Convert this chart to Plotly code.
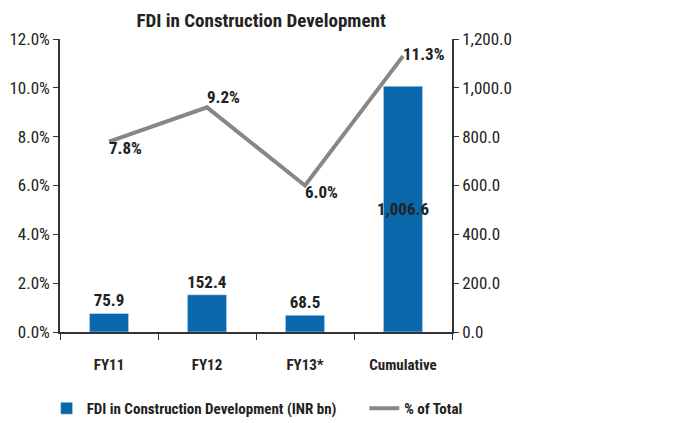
import plotly.graph_objects as go

categories = ["FY11", "FY12", "FY13*", "Cumulative"]
fdi_values = [75.9, 152.4, 68.5, 1006.6]
pct_total = [7.8, 9.2, 6.0, 11.3]
left_ticks = [0, 2, 4, 6, 8, 10, 12]
left_tick_text = ["0.0%", "2.0%", "4.0%", "6.0%", "8.0%", "10.0%", "12.0%"]
right_ticks = [0, 200, 400, 600, 800, 1000, 1200]
right_tick_text = ["0.0", "200.0", "400.0", "600.0", "800.0", "1,000.0", "1,200.0"]

FONT = "Liberation Sans Narrow, Roboto Condensed, Arial Narrow, Roboto, sans-serif"
DARK = "#222222"

fig = go.Figure()

fig.add_trace(go.Bar(
    x=categories, y=fdi_values,
    name="<b>FDI in Construction Development (INR bn)</b>",
    marker=dict(color="#0868AB"),
    texttemplate="<b>%{y:,.1f}</b>",
    textposition=["outside", "outside", "outside", "inside"],
    insidetextanchor="middle",
    textangle=0,
    constraintext="none",
    textfont=dict(size=17, color=DARK, family=FONT),
    insidetextfont=dict(size=17, color=DARK, family=FONT),
    outsidetextfont=dict(size=17, color=DARK, family=FONT),
    cliponaxis=False,
    yaxis="y",
    legend="legend",
))

fig.add_trace(go.Scatter(
    x=categories, y=pct_total,
    name="<b>% of Total</b>",
    mode="lines+text",
    line=dict(color="#878787", width=4),
    texttemplate="<b>%{y:.1f}%</b>",
    textposition=["bottom right", "top right", "bottom right", "middle right"],
    textfont=dict(size=17, color=DARK, family=FONT),
    cliponaxis=False,
    yaxis="y2",
    legend="legend2",
))

legend_common = dict(orientation="h", xref="container", yref="container",
                     xanchor="left", yanchor="middle", y=0.035,
                     font=dict(size=15, family=FONT, color=DARK),
                     bgcolor="rgba(0,0,0,0)")

fig.update_layout(
    width=666, height=415,
    margin=dict(l=52, r=222, t=31, b=91),
    paper_bgcolor="white", plot_bgcolor="white",
    font=dict(family=FONT, color=DARK, size=16),
    title=dict(text="<b>FDI in Construction Development</b>", x=0.38, xanchor="center",
               y=0.971, yanchor="middle", font=dict(size=19, family=FONT, color=DARK)),
    bargap=0.6,
    showlegend=True,
    legend=dict(x=0.058, **legend_common),
    legend2=dict(x=0.535, **legend_common),
    xaxis=dict(
        showline=True, linecolor="#333333", linewidth=1.5,
        ticks="outside", tickson="boundaries", ticklen=6, tickcolor="#333333",
        tickfont=dict(size=15, family=FONT, color=DARK),
        ticklabelstandoff=18,
        tickvals=categories,
        ticktext=["<b>" + c + "</b>" for c in categories],
        showgrid=False, automargin=False,
    ),
    yaxis=dict(
        side="right", range=[0, 1200], tickvals=right_ticks, ticktext=right_tick_text,
        showline=True, linecolor="#333333", linewidth=1.5,
        ticks="outside", ticklen=5, tickcolor="#333333",
        showgrid=False, zeroline=False, automargin=False,
        tickfont=dict(size=17, family=FONT, color=DARK),
    ),
    yaxis2=dict(
        side="left", overlaying="y", range=[0, 12], tickvals=left_ticks, ticktext=left_tick_text,
        showline=True, linecolor="#333333", linewidth=1.5,
        ticks="outside", ticklen=5, tickcolor="#333333",
        showgrid=False, zeroline=False, automargin=False,
        tickfont=dict(size=17, family=FONT, color=DARK),
    ),
)

fig.write_html("out.html")
